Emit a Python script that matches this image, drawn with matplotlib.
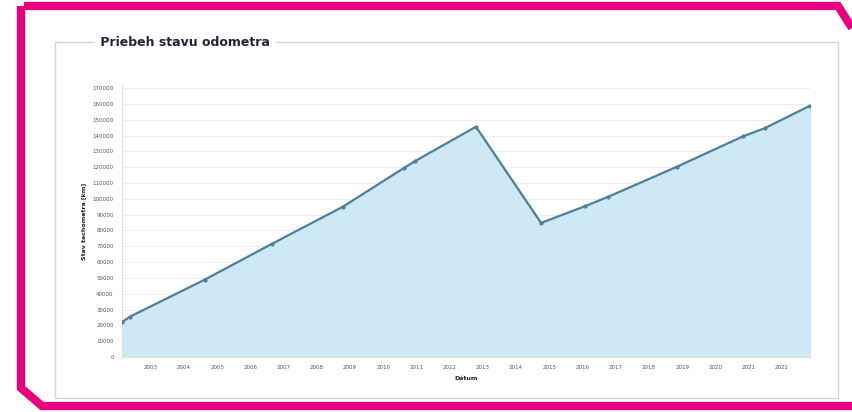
import matplotlib
matplotlib.use('Agg')
import matplotlib.pyplot as plt
from matplotlib.lines import Line2D
from matplotlib.patches import Rectangle

# -------------------------------------------------------
# data (odhad z obrazka)
# -------------------------------------------------------
roky = [2002.13, 2002.37, 2004.63, 2006.64, 2008.78, 2010.62, 2010.95,
        2012.79, 2014.75, 2016.07, 2016.77, 2018.84, 2020.83, 2021.49, 2022.85]
km = [22000, 25500, 49000, 71500, 95000, 119500, 123800,
      145600, 84800, 95300, 101300, 120300, 139500, 144700, 158900]
x_ticky = list(range(2003, 2023))
y_ticky = list(range(0, 170001, 10000))

W, H = 852, 412
fig = plt.figure(figsize=(W / 100, H / 100), dpi=100)
fig.patch.set_facecolor('white')


def px(x, y):
    return x / W, 1 - y / H


# ruzovy ram
ram = [(24, 6), (838, 6), (852, 28)]
ram2 = [(21, 6), (21, 388), (42, 406), (852, 406)]
for body in (ram, ram2):
    xs = [px(a, b)[0] for a, b in body]
    ys = [px(a, b)[1] for a, b in body]
    fig.add_artist(Line2D(xs, ys, color='#e6007e', linewidth=6,
                          solid_joinstyle='miter', solid_capstyle='butt'))

# panel s nadpisom
x0, y0 = px(55, 398)
x1, y1 = px(838, 42)
fig.add_artist(Rectangle((x0, y0), x1 - x0, y1 - y0, transform=fig.transFigure,
                         fill=False, edgecolor='#d4d4d4', linewidth=1))
tx, ty = px(96, 42)
fig.text(tx, ty, " Priebeh stavu odometra ", fontsize=9, fontweight='bold',
         color='#22223a', va='center', ha='left',
         bbox=dict(facecolor='white', edgecolor='none', pad=1))

# graf
ax_l, ax_b = px(122, 357)
ax_r, ax_t = px(810, 85)
ax = fig.add_axes([ax_l, ax_b, ax_r - ax_l, ax_t - ax_b])
ax.fill_between(roky, km, color='#cfe8f6', alpha=1.0, zorder=1)
ax.plot(roky, km, color='#4d7f99', linewidth=1.6, marker='o', markersize=2,
        zorder=3)

ax.set_xlim(roky[0], roky[-1])
ax.set_ylim(0, 172000)
ax.set_xticks(x_ticky)
ax.set_xticklabels([str(r) for r in x_ticky], fontsize=4, color='#555555')
ax.set_yticks(y_ticky)
ax.set_yticklabels([str(v) for v in y_ticky], fontsize=4, color='#555555')
ax.tick_params(length=0, pad=6)
ax.grid(True, axis='y', color='#ececec', linewidth=0.8)
ax.set_axisbelow(True)
for s in ('top', 'right'):
    ax.spines[s].set_visible(False)
ax.spines['left'].set_color('#dddddd')
ax.spines['bottom'].set_color('#dddddd')

ax.set_xlabel("Dátum", fontsize=4.5, fontweight='bold', color='#22223a',
              labelpad=4)
ax.set_ylabel("Stav tachometra [km]", fontsize=4.5, fontweight='bold',
              color='#22223a', labelpad=5)

fig.savefig('out.png', dpi=100)
